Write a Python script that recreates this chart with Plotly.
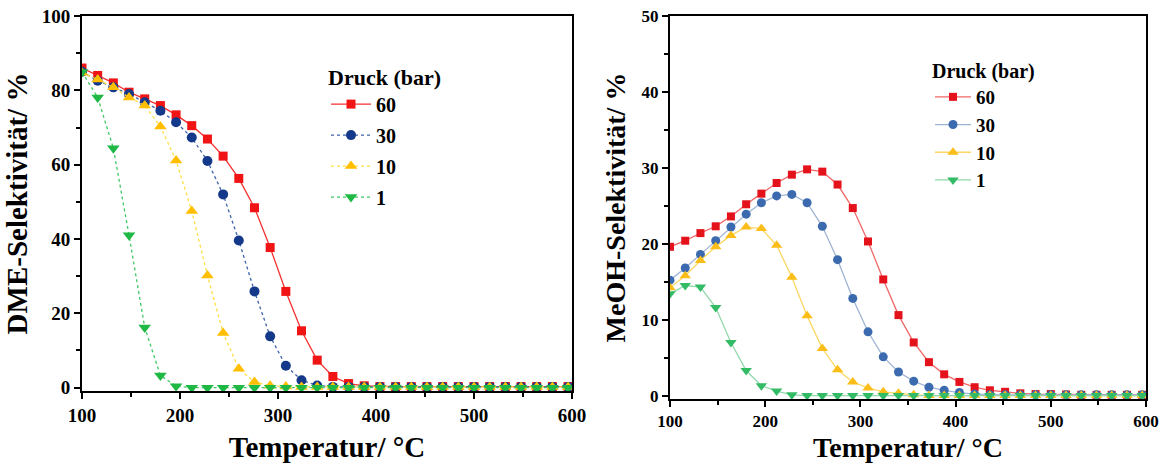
import plotly.graph_objects as go

# Temperatures (°C)
temp = [100, 116, 132, 148, 164, 180, 196, 212, 228, 244, 260, 276, 292, 308, 324, 340,
        356, 372, 388, 404, 420, 436, 452, 468, 484, 500, 516, 532, 548, 564, 580, 596]

pressures = ["60", "30", "10", "1"]

# DME selectivity (%)
dme_60 = [86.0, 84.0, 82.0, 79.5, 77.7, 75.9, 73.4, 70.5, 66.9, 62.3, 56.3, 48.4, 37.7, 25.9, 15.3, 7.4,
          3.0, 1.1, 0.5, 0.3, 0.3, 0.3, 0.3, 0.3, 0.3, 0.3, 0.3, 0.3, 0.3, 0.3, 0.3, 0.3]
dme_30 = [85.0, 82.6, 80.8, 79.0, 76.8, 74.5, 71.4, 67.3, 61.0, 52.0, 39.6, 25.9, 13.8, 5.9, 2.0, 0.6,
          0.2, 0.2, 0.2, 0.2, 0.2, 0.2, 0.2, 0.2, 0.2, 0.2, 0.2, 0.2, 0.2, 0.2, 0.2, 0.2]
dme_10 = [84.7, 82.9, 80.8, 78.1, 75.9, 70.3, 61.1, 47.5, 30.2, 14.7, 5.1, 1.5, 0.5, 0.3, 0.2, 0.2,
          0.2, 0.2, 0.2, 0.2, 0.2, 0.2, 0.2, 0.2, 0.2, 0.2, 0.2, 0.2, 0.2, 0.2, 0.2, 0.2]
dme_1 = [84.9, 78.1, 64.4, 41.0, 16.2, 3.3, 0.4, 0.0, 0.0, 0.0, 0.0, 0.0, 0.0, 0.0, 0.0, 0.0,
         0.0, 0.0, 0.0, 0.0, 0.0, 0.0, 0.0, 0.0, 0.0, 0.0, 0.0, 0.0, 0.0, 0.0, 0.0, 0.0]

# MeOH selectivity (%)
meoh_60 = [19.6, 20.4, 21.4, 22.3, 23.6, 25.2, 26.6, 28.0, 29.1, 29.8, 29.5, 27.8, 24.7, 20.3, 15.3, 10.6,
           7.0, 4.4, 2.8, 1.8, 1.1, 0.7, 0.5, 0.3, 0.2, 0.2, 0.15, 0.1, 0.1, 0.1, 0.1, 0.1]
meoh_30 = [15.2, 16.8, 18.6, 20.4, 22.2, 23.9, 25.4, 26.3, 26.5, 25.4, 22.3, 17.9, 12.8, 8.4, 5.1, 3.1,
           1.9, 1.1, 0.7, 0.4, 0.2, 0.1, 0.1, 0.1, 0.1, 0.1, 0.1, 0.1, 0.1, 0.1, 0.1, 0.1]
meoh_10 = [14.2, 15.8, 17.8, 19.6, 21.1, 22.2, 22.0, 19.8, 15.6, 10.5, 6.2, 3.4, 1.8, 1.0, 0.5, 0.3,
           0.1, 0.0, 0.0, 0.0, 0.0, 0.0, 0.0, 0.0, 0.0, 0.0, 0.0, 0.0, 0.0, 0.0, 0.0, 0.0]
meoh_1 = [13.4, 14.5, 14.3, 11.6, 7.0, 3.3, 1.3, 0.6, 0.1, 0.0, 0.0, 0.0, 0.0, 0.0, 0.0, 0.0,
          0.0, 0.0, 0.0, 0.0, 0.0, 0.0, 0.0, 0.0, 0.0, 0.0, 0.0, 0.0, 0.0, 0.0, 0.0, 0.0]

FONT = "Liberation Serif"

left_style = [
    dict(symbol="square", mcolor="#f01414", lcolor="#f53030", dash="solid", size=9),
    dict(symbol="circle", mcolor="#15398a", lcolor="#3d62a8", dash="dot", size=10),
    dict(symbol="triangle-up", mcolor="#ffbf00", lcolor="#ffdf40", dash="dot", size=11),
    dict(symbol="triangle-down", mcolor="#1fb845", lcolor="#3fc865", dash="dot", size=11),
]
right_style = [
    dict(symbol="square", mcolor="#e4121a", lcolor="#f06868", dash="solid", size=8),
    dict(symbol="circle", mcolor="#3b6aae", lcolor="#9fb4d4", dash="solid", size=9),
    dict(symbol="triangle-up", mcolor="#fbbd17", lcolor="#fbd660", dash="solid", size=10),
    dict(symbol="triangle-down", mcolor="#33bb66", lcolor="#92d8ac", dash="solid", size=10),
]

fig = go.Figure()

for p, ys, st in zip(pressures, [dme_60, dme_30, dme_10, dme_1], left_style):
    fig.add_trace(go.Scatter(
        x=temp, y=ys, name=p, mode="lines+markers", xaxis="x", yaxis="y",
        legend="legend", legendgroup="L" + p,
        line=dict(color=st["lcolor"], width=1.3, dash=st["dash"]),
        marker=dict(symbol=st["symbol"], color=st["mcolor"], size=st["size"]),
    ))

for p, ys, st in zip(pressures, [meoh_60, meoh_30, meoh_10, meoh_1], right_style):
    fig.add_trace(go.Scatter(
        x=temp, y=ys, name=p, mode="lines+markers", xaxis="x2", yaxis="y2",
        legend="legend2", legendgroup="R" + p,
        line=dict(color=st["lcolor"], width=1.3, dash=st["dash"]),
        marker=dict(symbol=st["symbol"], color=st["mcolor"], size=st["size"]),
    ))

W, H = 1168, 463


def px_x(v):
    return v / W


def px_y(v):
    return (H - v) / H


axis_common = dict(
    showgrid=False, zeroline=False, showline=True, linecolor="black", linewidth=2,
    mirror=True, ticks="outside", tickcolor="black", tickwidth=2, ticklen=6,
    automargin=False,
)

fig.update_layout(
    width=W, height=H,
    margin=dict(l=0, r=0, t=0, b=0, autoexpand=False),
    paper_bgcolor="white", plot_bgcolor="white",
    font=dict(family=FONT, color="black"),
    xaxis=dict(
        domain=[px_x(82), px_x(572)], range=[100, 600], tick0=100, dtick=100,
        tickfont=dict(family=FONT, size=19, weight="bold"),
        minor=dict(dtick=50, ticks="outside", ticklen=4, tickwidth=2, tickcolor="black"),
        title=dict(text="Temperatur/ °C", font=dict(family=FONT, size=29, weight="bold"), standoff=12),
        anchor="y", **axis_common,
    ),
    yaxis=dict(
        domain=[px_y(391), px_y(16)], range=[-0.9, 100], tick0=0, dtick=20,
        tickfont=dict(family=FONT, size=19, weight="bold"),
        minor=dict(dtick=10, ticks="outside", ticklen=4, tickwidth=2, tickcolor="black"),
        title=dict(text="DME-Selektivität/ %", font=dict(family=FONT, size=29, weight="bold"), standoff=6),
        anchor="x", **axis_common,
    ),
    xaxis2=dict(
        domain=[px_x(670), px_x(1146)], range=[100, 600], tick0=100, dtick=100,
        tickfont=dict(family=FONT, size=17, weight="bold"),
        minor=dict(dtick=50, ticks="outside", ticklen=4, tickwidth=2, tickcolor="black"),
        title=dict(text="Temperatur/ °C", font=dict(family=FONT, size=28, weight="bold"), standoff=10),
        anchor="y2", **axis_common,
    ),
    yaxis2=dict(
        domain=[px_y(399), px_y(16)], range=[-0.45, 50], tick0=0, dtick=10,
        tickfont=dict(family=FONT, size=17, weight="bold"),
        minor=dict(dtick=5, ticks="outside", ticklen=4, tickwidth=2, tickcolor="black"),
        title=dict(text="MeOH-Selektivität/ %", font=dict(family=FONT, size=28, weight="bold"), standoff=8),
        anchor="x2", **axis_common,
    ),
    legend=dict(
        x=px_x(326), y=px_y(56), xanchor="left", yanchor="top",
        bgcolor="rgba(0,0,0,0)", borderwidth=0,
        title=dict(text="Druck (bar)", font=dict(family=FONT, size=22, weight="bold")),
        font=dict(family=FONT, size=20, weight="bold", color="black"),
        tracegroupgap=2, itemwidth=40,
    ),
    legend2=dict(
        x=px_x(930), y=px_y(52), xanchor="left", yanchor="top",
        bgcolor="rgba(0,0,0,0)", borderwidth=0,
        title=dict(text="Druck (bar)", font=dict(family=FONT, size=20, weight="bold")),
        font=dict(family=FONT, size=19, weight="bold", color="black"),
        tracegroupgap=0, itemwidth=36,
    ),
    showlegend=True,
)

fig.write_html("out.html")
